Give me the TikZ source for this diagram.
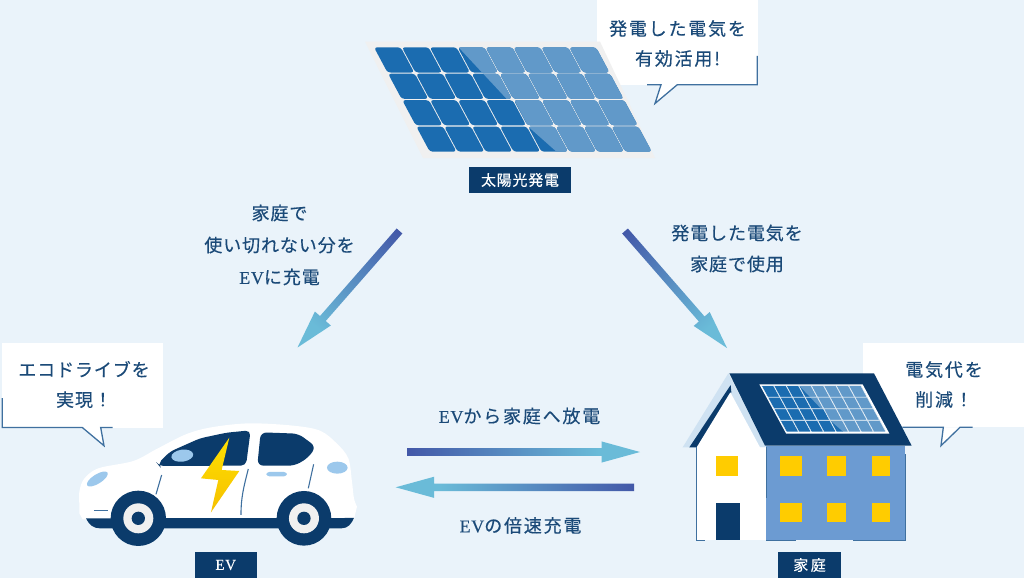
\documentclass[tikz,border=0pt]{standalone}
\usepackage{fontspec}
\usetikzlibrary{calc}
\newfontfamily\jp[LetterSpace=5,FakeBold=0.35]{Noto Sans CJK JP}
\newfontfamily\jpw[LetterSpace=10,FakeBold=0.35]{Noto Sans CJK JP}
\newfontfamily\lat[LetterSpace=4,FakeBold=0.25]{Liberation Serif}
\definecolor{bgc}{HTML}{EAF3FA}
\definecolor{navy}{HTML}{0B3B6B}
\definecolor{txt}{HTML}{1B4A78}
\definecolor{edge}{HTML}{3F709F}
\definecolor{celld}{HTML}{1B6CB0}
\definecolor{celll}{HTML}{6199C9}
\definecolor{framec}{HTML}{F0F0F0}
\definecolor{arra}{HTML}{4358A8}
\definecolor{arrb}{HTML}{6ABBD8}
\definecolor{wall}{HTML}{6C9BD2}
\definecolor{yel}{HTML}{FFCC00}
\definecolor{glass}{HTML}{9CC8EC}
\definecolor{gable}{HTML}{CFE2F2}
\definecolor{boltt}{HTML}{FFE000}
\definecolor{boltb}{HTML}{F5C000}
\pgfdeclarehorizontalshading{arrshade}{100bp}{color(0bp)=(arra);color(25bp)=(arra);color(66bp)=(arrb);color(100bp)=(arrb)}
\tikzset{
  msg/.style={inner sep=0pt,align=center,text=txt,font=\jp\fontsize{18}{30}\selectfont},
  msgwide/.style={msg,font=\jpw\fontsize{18}{30}\selectfont},
  tag/.style={fill=navy,text=white,inner sep=0pt,align=center,font=\jp\fontsize{15}{16}\selectfont},
  bubble/.style={fill=white},
  bubbleedge/.style={draw=edge,line width=1.3pt,fill=white,line join=miter},
}
\newcommand\panelcells[2]{%
  \foreach \r in {0,...,3}{\foreach \c in {0,...,7}{%
    \pgfmathsetmacro\px{374+\c*27.9+\r*14.1}%
    \pgfmathsetmacro\py{47.3+\r*26.4}%
    \path[fill=#1,#2] (\px,\py)--++(26.7,0)--++(13.5,25.2)--++(-26.7,0)--cycle;
  }}}
\newcommand\solarpanel[1]{%
  \panelcells{celld}{#1}
  \begin{scope}
    \clip (453.6,42)--(610,42)--(665,160)--(565.8,160)--(528.3,126.7)--(514,99.7)--(506.7,99)--cycle;
    \panelcells{celll}{#1}
  \end{scope}}
\newcommand\gradarrow[2]{%
  \path let \p1=($(#2)-(#1)$),\n1={atan2(\y1,\x1)},\n2={veclen(\x1,\y1)} in
    \pgfextra{\xdef\gang{\n1}\xdef\glen{\n2}};
  \pgfmathsetmacro\gl{\glen}%
  \pgfmathsetmacro\gb{\gl-38.5}%
  \shade[transform canvas={shift={(#1)},rotate=\gang},shading=arrshade]
    (0,-3.8)--(\gb,-3.8)--(\gb,-10.6)--(\gl,0)--(\gb,10.6)--(\gb,3.8)--(0,3.8)--cycle;
}
\begin{document}
\begin{tikzpicture}[x=1pt,y=-1pt]
\useasboundingbox (0,0) rectangle (1024,578);
\fill[bgc] (0,0) rectangle (1024,578);

% callouts
\fill[bubble] (597,0) rectangle (757.5,84.7);
\draw[bubbleedge] (647,84.7)--(661,84.7)--(655,103.5)--(677.3,84.7)--(757.3,84.7)--(757.3,56);
\fill[bubble] (2.3,342.7) rectangle (163.3,427.5);
\draw[bubbleedge] (2.3,398)--(2.3,427.5)--(82.3,427.5)--(104,445.7)--(100.7,427.5)--(112.7,427.5);
\fill[bubble] (862.7,342.7) rectangle (1024,427.3);
\draw[bubbleedge] (902.3,427.3)--(943.3,427.3)--(941,445.7)--(960,427.3)--(972.7,427.3);

% solar panel
\fill[framec] (365,41.7)--(600,41.7)--(655,158)--(423,158)--cycle;
\solarpanel{rounded corners=3pt}
\node[tag,minimum width=101.4pt,minimum height=25.4pt] (solarlabel) at (520,180) {太陽光発電};
\node[msgwide] (solarsay) at (677.5,43.5) {発電した電気を\\有効活用!};
\node[msg] (evsay) at (84,384.5) {エコドライブを\\実現！};
\node[msgwide] (homesay) at (944,384.5) {電気代を\\削減！};

% arrows
\coordinate (a1s) at (399.5,231);
\coordinate (a1e) at (297.5,347.5);
\coordinate (a2s) at (625,231);
\coordinate (a2e) at (727,348);
\coordinate (a3s) at (407.3,452);
\coordinate (a3e) at (640,452);
\coordinate (a4s) at (634,487.3);
\coordinate (a4e) at (395.7,487.3);
\gradarrow{a1s}{a1e}
\gradarrow{a2s}{a2e}
\gradarrow{a3s}{a3e}
\gradarrow{a4s}{a4e}

\node[msg,font=\jp\fontsize{18}{32}\selectfont] (t1) at (279.5,245) {家庭で\\使い切れない分を\\{\lat EV}に充電};
\node[msg,font=\jp\fontsize{18}{31}\selectfont] (t2) at (737,248.5) {発電した電気を\\家庭で使用};
\node[msgwide] (t3) at (519.5,416) {{\lat EV}から家庭へ放電};
\node[msgwide] (t4) at (520.5,525.5) {{\lat EV}の倍速充電};

% car
\begin{scope}[shift={(0,335)},x=.3333pt,y=-.3333pt]
  \fill[white] (248,553)--(238,535)--plot[smooth,tension=.55] coordinates {(238,505)(238,470)(252,432)(295,400)(400,378)(470,342)(560,297)(640,276)(750,265)(880,272)(960,287)(1010,325)(1045,370)(1056,440)(1062,490)(1071,515)}--(1062,553)--cycle;
  \fill[navy] (258,550)..controls (268,570) and (280,580) .. (300,580)--(1025,580)..controls (1045,580) and (1055,565) .. (1062,549)--cycle;
  \fill[navy] (415,550) circle[radius=83];
  \fill[navy] (912,550) circle[radius=82];
  \fill[framec] (415,550) circle[radius=45];
  \fill[framec] (912,550) circle[radius=45];
  \fill[navy] (415,550) circle[radius=20];
  \fill[navy] (912,550) circle[radius=20];
  \fill[navy,rounded corners=5pt] (473,387)--(510,350)--(600,310)--(680,293)--(752,286)--(738,392)--(478,393)--cycle;
  \fill[navy,rounded corners=6pt] (782,292)--(895,296)--(948,335)--(925,368)--(885,392)--(772,392)--cycle;
  \fill[glass,rotate around={8:(547,362)}] (547,362) ellipse[x radius=33,y radius=18];
  \fill[glass,rotate around={32:(292,432)}] (292,432) ellipse[x radius=36,y radius=14];
  \fill[glass] (1012,398) ellipse[x radius=31,y radius=18];
  \fill[glass,rounded corners=3pt] (799,411) rectangle (861,424);
  \draw[edge,line width=1.1pt] (485,420)--(468,478);
  \draw[edge,line width=1.1pt] (745,402)..controls (730,460) and (723,490) .. (723,540);
  \draw[edge,line width=1.1pt] (941,388)--(925,460);
  \draw[edge,line width=1.1pt] (282,527)--(323,527);
  \shade[top color=boltt,bottom color=boltb] (688,308)--(603,430)--(655,435)--(633,532)--(718,408)--(665,405)--cycle;
\end{scope}
\node[tag,minimum width=62pt,minimum height=25.4pt,font=\lat\fontsize{15}{16}\selectfont] (evlabel) at (225.7,565) {EV};

% house
\begin{scope}[shift={(670,335)},x=.3333pt,y=-.3333pt]
  \fill[gable] (175,115)--(38,337)--(288,337)--cycle;
  \fill[navy] (178,115)--(612,115)--(725,332)--(285,332)--cycle;
  \fill[navy] (182,150)--(58,337)--(82,337)--(184,172)--cycle;
  \fill[white] (181,172)--(80,337)--(80,615)--(288,615)--(288,337)--(270,337)--cycle;
  \fill[wall] (288,334) rectangle (706,615);
  \draw[edge,line width=.9pt] (80,337)--(80,615)--(105,615);
  \draw[edge,line width=.9pt] (288,337)--(288,490);
  \draw[edge,line width=.9pt] (288,615)--(378,615);
  \draw[edge,line width=.9pt] (550,615)--(707,615)--(707,358);
  \foreach \a/\b/\c/\d in {139/364/205/423,330/364/395/423,470/364/529/423,605/364/660/423,330/503/395/561,470/503/529/561,605/503/660/561}
    \fill[yel] (\a,\b) rectangle (\c,\d);
  \fill[navy] (139,505) rectangle (210,615);
\end{scope}
\begin{scope}[shift={(594.4,365)},xscale=.447,yscale=.44]
  \fill[white] (369,44)--(600,44)--(660,156)--(429,156)--cycle;
  \solarpanel{draw=white,line width=.3pt}
\end{scope}
\node[tag,minimum width=62.4pt,minimum height=25.4pt] (homelabel) at (809.5,565) {家\,庭};
\end{tikzpicture}
\end{document}
